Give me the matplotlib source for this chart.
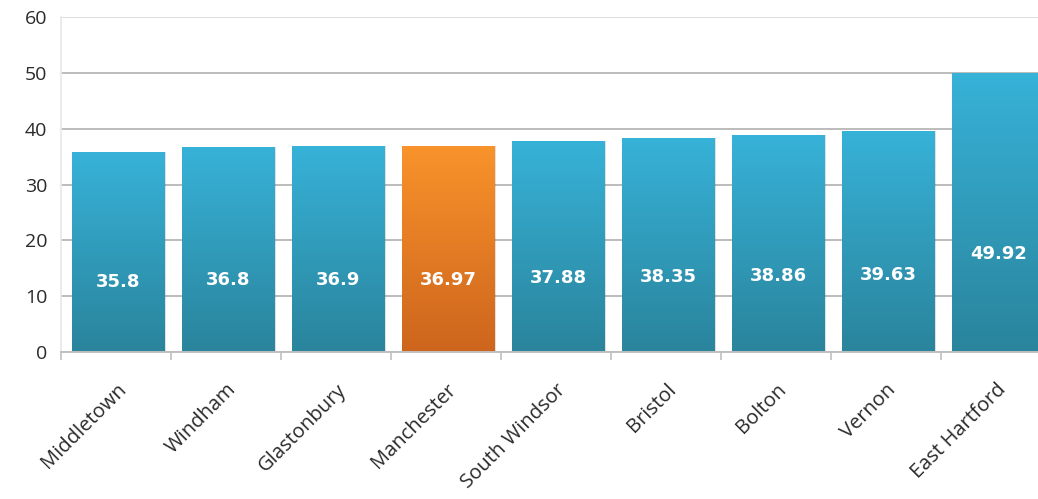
import numpy as np
import matplotlib
matplotlib.use('Agg')
import matplotlib.pyplot as plt
from matplotlib.colors import LinearSegmentedColormap

towns = ['Middletown', 'Windham', 'Glastonbury', 'Manchester', 'South Windsor',
         'Bristol', 'Bolton', 'Vernon', 'East Hartford']
values = [35.8, 36.8, 36.9, 36.97, 37.88, 38.35, 38.86, 39.63, 49.92]
value_labels = ['35.8', '36.8', '36.9', '36.97', '37.88', '38.35', '38.86', '39.63', '49.92']
highlight = 'Manchester'
y_ticks = [0, 10, 20, 30, 40, 50, 60]

blue_cmap = LinearSegmentedColormap.from_list('blue', ['#2a849c', '#37b2d8'])
orange_cmap = LinearSegmentedColormap.from_list('orange', ['#cd651d', '#f9932b'])

fig = plt.figure(figsize=(10.38, 4.99), dpi=100)
ax = fig.add_axes([61/1038, 1-352/499, 990/1038, 335/499])

x = np.arange(len(towns))
bars = ax.bar(x + 0.02, values, width=0.84, color='none', edgecolor='none', zorder=3)

grad = np.linspace(0, 1, 256).reshape(-1, 1)
for bar, town in zip(bars, towns):
    x0, w, h = bar.get_x(), bar.get_width(), bar.get_height()
    cmap = orange_cmap if town == highlight else blue_cmap
    # soft shadow on the right side
    ax.bar(x0 + w/2 + 0.015, h, width=w, color='#000000', alpha=0.12, zorder=2)
    im = ax.imshow(grad, cmap=cmap, origin='lower', aspect='auto',
                   extent=(x0, x0 + w, 0, h), zorder=3)
    im.set_clip_path(bar)

for xi, v, lab in zip(x + 0.02, values, value_labels):
    ax.text(xi, v*0.35, lab, ha='center', va='center', color='white',
            fontsize=13, fontweight='bold', family='DejaVu Sans', zorder=5)

ax.set_xlim(-0.5, len(towns) - 0.5)
ax.set_ylim(0, 60)
ax.set_yticks(y_ticks)
ax.set_yticklabels([str(t) for t in y_ticks], family='Open Sans', fontsize=14, color='#2a2a2a')
ax.yaxis.grid(True, color='#bcbcbc', linewidth=1.4, zorder=0)
ax.get_ygridlines()[-1].set_color('#dedede')
ax.set_axisbelow(True)
ax.tick_params(axis='y', length=0, pad=10)

ax.set_xticks(x)
ax.set_xticklabels(towns, rotation=45, ha='right', va='top', rotation_mode='anchor',
                   family='Open Sans', fontsize=14.5, color='#2a2a2a')
ax.set_xticks(np.arange(len(towns) + 1) - 0.5, minor=True)
ax.tick_params(axis='x', which='major', length=0, pad=20)
ax.tick_params(axis='x', which='minor', length=6, color='#c0c0c0', width=1.2)

for side in ['top', 'right']:
    ax.spines[side].set_visible(False)
ax.spines['left'].set_color('#e8e8e8')
ax.spines['left'].set_linewidth(1.2)
ax.spines['bottom'].set_color('#c0c0c0')
ax.spines['bottom'].set_linewidth(1.4)
ax.spines['bottom'].set_zorder(4)

fig.savefig('out.png', dpi=100)
